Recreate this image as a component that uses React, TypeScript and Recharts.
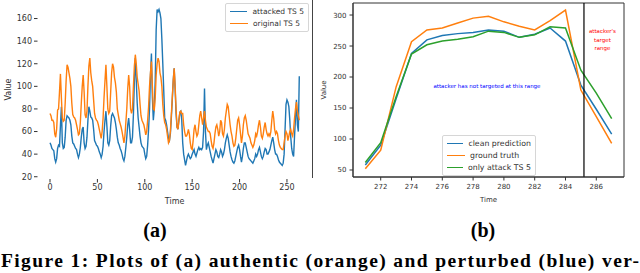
import React from 'react';
import { LineChart, Line, XAxis, YAxis, Legend, ReferenceLine, ReferenceArea, ReferenceDot, Label } from 'recharts';

// (a) attacked vs original series, one value per time step 0..263
const ATTACKED_TS5 = [
  50, 48, 45, 44, 43, 36, 33, 36, 45, 48, 47, 65, 82, 50, 45, 46, 55, 70, 74, 73, 72, 70, 66, 56,
  50, 49, 47, 45, 44, 40, 37, 40, 46, 55, 62, 64, 50, 45, 47, 55, 70, 82, 78, 73, 72, 70, 62, 52,
  50, 48, 47, 45, 42, 40, 37, 40, 47, 60, 70, 78, 65, 50, 48, 52, 65, 74, 76, 74, 72, 68, 62, 55,
  50, 48, 45, 43, 40, 36, 34, 38, 46, 55, 66, 72, 62, 50, 50, 55, 75, 105, 125, 105, 85, 72, 64, 56,
  50, 47, 46, 45, 40, 36, 38, 48, 62, 80, 110, 129, 90, 70, 80, 105, 150, 168, 166, 168, 165, 160, 142, 120,
  96, 72, 70, 66, 60, 54, 52, 58, 72, 88, 105, 116, 98, 76, 64, 62, 70, 77, 78, 70, 50, 40, 35, 30,
  34, 38, 40, 38, 36, 37, 40, 42, 44, 40, 38, 41, 44, 46, 44, 45, 44, 46, 60, 98, 60, 44, 48, 50,
  46, 42, 38, 35, 32, 36, 40, 44, 42, 38, 37, 40, 44, 42, 38, 40, 44, 50, 54, 57, 54, 48, 42, 38,
  35, 33, 32, 34, 38, 42, 46, 48, 44, 38, 33, 38, 45, 50, 50, 46, 42, 38, 36, 35, 34, 33, 32, 34,
  36, 40, 38, 40, 44, 46, 42, 38, 36, 38, 42, 45, 44, 40, 40, 42, 44, 48, 52, 55, 50, 44, 40, 40,
  38, 35, 33, 32, 31, 30, 32, 40, 62, 84, 88, 86, 82, 70, 55, 45, 40, 38, 56, 72, 88, 66, 60, 109,
];

const ORIGINAL_TS5 = [
  76, 74, 70, 70, 68, 58, 55, 62, 79, 80, 95, 111, 90, 72, 69, 70, 85, 105, 119, 117, 112, 107, 100, 85,
  75, 73, 72, 70, 66, 62, 57, 58, 68, 85, 100, 110, 95, 75, 72, 78, 100, 118, 125, 112, 105, 100, 88, 76,
  72, 70, 69, 66, 62, 58, 54, 60, 72, 90, 105, 119, 100, 80, 76, 78, 95, 112, 120, 117, 108, 103, 95, 80,
  75, 70, 67, 64, 60, 55, 50, 56, 68, 80, 98, 110, 100, 80, 76, 80, 100, 118, 128, 120, 108, 102, 96, 84,
  74, 70, 68, 66, 62, 57, 60, 70, 82, 100, 112, 122, 100, 80, 79, 90, 110, 120, 125, 122, 112, 108, 100, 84,
  74, 68, 66, 62, 56, 50, 52, 60, 75, 90, 105, 116, 100, 80, 64, 62, 70, 77, 78, 76, 76, 66, 60, 56,
  56, 58, 62, 58, 50, 45, 44, 52, 62, 66, 60, 56, 58, 66, 74, 78, 72, 66, 72, 78, 70, 64, 62, 60,
  60, 58, 52, 47, 45, 50, 58, 64, 66, 62, 56, 60, 70, 68, 58, 56, 62, 72, 78, 84, 82, 74, 66, 60,
  56, 50, 47, 48, 54, 62, 70, 72, 66, 58, 50, 56, 66, 72, 74, 70, 64, 58, 56, 54, 50, 48, 46, 48,
  52, 58, 56, 60, 66, 70, 64, 56, 54, 58, 64, 68, 62, 58, 56, 58, 56, 60, 70, 78, 72, 62, 58, 60,
  58, 52, 48, 46, 45, 44, 44, 50, 56, 60, 58, 52, 56, 60, 62, 58, 56, 62, 72, 80, 86, 78, 74, 70,
];

const TS_X_TICKS = [0, 50, 100, 150, 200, 250];
const TS_Y_TICKS = [20, 40, 60, 80, 100, 120, 140, 160];

// (b) forecast window
const STEPS = [271, 272, 273, 274, 275, 276, 277, 278, 279, 280, 281, 282, 283, 284, 285, 286, 287];
const CLEAN_PREDICTION = [58, 90, 165, 238, 260, 267, 270, 272, 276, 274, 264, 269, 279, 258, 187, 148, 108];
const GROUND_TRUTH = [52, 82, 184, 257, 276, 279, 287, 295, 298, 289, 282, 276, 291, 308, 179, 136, 93];
const ONLY_ATTACK_TS5 = [62, 94, 168, 237, 252, 258, 261, 265, 274, 272, 264, 268, 281, 279, 211, 174, 133];
const STEP_TICKS = [272, 274, 276, 278, 280, 282, 284, 286];
const FORECAST_Y_TICKS = [50, 100, 150, 200, 250, 300];
const ATTACK_START = 285.2;

const BLUE = '#1f77b4';
const ORANGE = '#ff7f0e';
const GREEN = '#2ca02c';
const FONT = 'DejaVu Sans';

const tsData = ATTACKED_TS5.map((v, i) => ({ t: i, attacked: v, original: ORIGINAL_TS5[i] }));
const forecastData = STEPS.map((s, i) => ({
  step: s,
  clean: CLEAN_PREDICTION[i],
  truth: GROUND_TRUTH[i],
  attack: ONLY_ATTACK_TS5[i],
}));

const BoxLegend = ({ payload, fontSize = 7.5, rowHeight = 11.5 }: any) => (
  <div
    style={{
      border: '1px solid #d6d6d6',
      borderRadius: 2,
      background: 'rgba(255,255,255,0.85)',
      padding: '2px 4px',
      fontFamily: FONT,
      fontSize,
      color: '#333',
      lineHeight: `${rowHeight}px`,
    }}
  >
    {(payload || []).map((p: any) => (
      <div key={p.value} style={{ display: 'flex', alignItems: 'center', whiteSpace: 'nowrap' }}>
        <span style={{ display: 'inline-block', width: 18, borderTop: `1.5px solid ${p.color}`, marginRight: 5 }} />
        {p.value}
      </div>
    ))}
  </div>
);

const NoteLabel = ({ viewBox, lines, color }: any) => {
  const cx = viewBox.x + viewBox.width / 2;
  const cy = viewBox.y + viewBox.height / 2;
  return (
    <text x={cx} y={cy} fill={color} fontSize={5.5} fontFamily={FONT} textAnchor="middle">
      {lines.map((l: string, i: number) => (
        <tspan key={i} x={cx} dy={i === 0 ? 0 : 8.5}>
          {l}
        </tspan>
      ))}
    </text>
  );
};

const tickA = { fontSize: 8, fill: '#333', fontFamily: FONT };
const tickB = { fontSize: 7, fill: '#333', fontFamily: FONT };

const App: React.FC = () => {
  return (
    <div style={{ position: 'absolute', left: 0, top: 0, width: 640, height: 273, background: '#fff', overflow: 'hidden' }}>
      {/* (a) */}
      <div style={{ position: 'absolute', left: 0, top: 0 }}>
        <LineChart width={320} height={215} data={tsData} margin={{ top: 0, right: 8.2, bottom: 0, left: 0 }}>
          <XAxis
            dataKey="t"
            type="number"
            domain={[-13.2, 276.2]}
            ticks={TS_X_TICKS}
            tick={tickA}
            tickSize={3.5}
            tickMargin={2}
            axisLine={false}
            tickLine={{ stroke: '#333' }}
            height={36}
          >
            <Label value="Time" position="insideBottom" offset={11} style={{ fontSize: 8, fill: '#333', fontFamily: FONT }} />
          </XAxis>
          <YAxis
            type="number"
            domain={[18, 176.4]}
            ticks={TS_Y_TICKS}
            tick={tickA}
            tickSize={3.5}
            tickMargin={2}
            axisLine={false}
            tickLine={{ stroke: '#333' }}
            width={37.5}
          >
            <Label value="Value" angle={-90} position="insideLeft" offset={8} style={{ textAnchor: 'middle', fontSize: 8, fill: '#333', fontFamily: FONT }} />
          </YAxis>
          <Line dataKey="attacked" name="attacked TS 5" stroke={BLUE} strokeWidth={1.4} dot={false} isAnimationActive={false} />
          <Line dataKey="original" name="original TS 5" stroke={ORANGE} strokeWidth={1.4} dot={false} isAnimationActive={false} />
          <Legend
            layout="vertical"
            verticalAlign="middle"
            align="center"
            wrapperStyle={{ left: 225, top: 3, width: 84 }}
            content={<BoxLegend />}
          />
        </LineChart>
      </div>

      {/* separator */}
      <div style={{ position: 'absolute', left: 312, top: 0, width: 1.2, height: 178, background: '#444' }} />

      {/* (b) */}
      <div style={{ position: 'absolute', left: 315, top: 0 }}>
        <LineChart width={325} height={215} data={forecastData} margin={{ top: 3, right: 16, bottom: 0, left: 0 }}>
          <XAxis
            dataKey="step"
            type="number"
            domain={[270.2, 287.8]}
            ticks={STEP_TICKS}
            tick={tickB}
            tickSize={3.5}
            tickMargin={4}
            axisLine={{ stroke: '#333' }}
            tickLine={{ stroke: '#333' }}
            height={38}
          >
            <Label value="Time" position="insideBottom" offset={13} style={{ fontSize: 7, fill: '#333', fontFamily: FONT }} />
          </XAxis>
          <YAxis
            type="number"
            domain={[38.7, 319.4]}
            ticks={FORECAST_Y_TICKS}
            tick={tickB}
            tickSize={3.5}
            tickMargin={3}
            axisLine={{ stroke: '#333' }}
            tickLine={{ stroke: '#333' }}
            width={38}
          >
            <Label value="Value" angle={-90} position="insideLeft" offset={9} style={{ textAnchor: 'middle', fontSize: 7, fill: '#333', fontFamily: FONT }} />
          </YAxis>
          <ReferenceArea x1={270.2} x2={287.8} y1={38.7} y2={319.4} fill="none" stroke="#333" strokeWidth={1} />
          <Line dataKey="clean" name="clean prediction" stroke={BLUE} strokeWidth={1.5} dot={false} isAnimationActive={false} />
          <Line dataKey="truth" name="ground truth" stroke={ORANGE} strokeWidth={1.5} dot={false} isAnimationActive={false} />
          <Line dataKey="attack" name="only attack TS 5" stroke={GREEN} strokeWidth={1.5} dot={false} isAnimationActive={false} />
          <ReferenceLine x={ATTACK_START} stroke="#000" strokeWidth={1.2} />
          <ReferenceDot
            x={278.9}
            y={183}
            r={0}
            fill="none"
            stroke="none"
            label={<NoteLabel lines={['attacker has not targeted at this range']} color="#0000ff" />}
          />
          <ReferenceDot
            x={286.4}
            y={271}
            r={0}
            fill="none"
            stroke="none"
            label={<NoteLabel lines={["attacker's", 'target', 'range']} color="#ff0000" />}
          />
          <Legend
            layout="vertical"
            verticalAlign="middle"
            align="center"
            wrapperStyle={{ left: 127, top: 135, width: 94 }}
            content={<BoxLegend fontSize={7.8} rowHeight={11.8} />}
          />
        </LineChart>
      </div>

      {/* captions */}
      <div style={{ position: 'absolute', left: 155, top: 230, transform: 'translate(-50%, -50%)', fontFamily: 'Liberation Serif', fontWeight: 'bold', fontSize: 20 }}>(a)</div>
      <div style={{ position: 'absolute', left: 483, top: 230, transform: 'translate(-50%, -50%)', fontFamily: 'Liberation Serif', fontWeight: 'bold', fontSize: 20 }}>(b)</div>
      <svg style={{ position: 'absolute', left: 0, top: 248 }} width={640} height={25}>
        <text x={1} y={19} fontFamily="Liberation Serif" fontWeight="bold" fontSize={19.5} textLength={638} lengthAdjust="spacing" fill="#000">
          Figure 1:  Plots of (a) authentic (orange) and perturbed (blue) ver-
        </text>
      </svg>
    </div>
  );
};

export default App;
